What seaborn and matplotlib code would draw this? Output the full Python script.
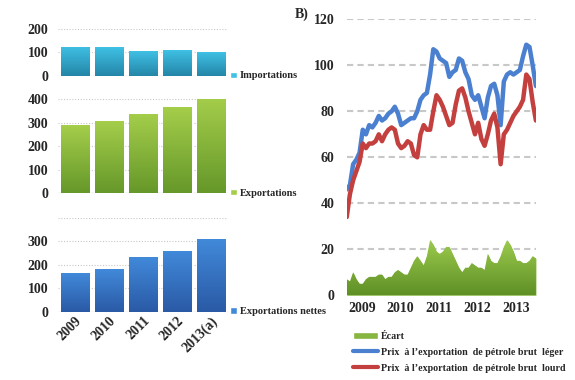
import numpy as np
import matplotlib.pyplot as plt
import seaborn as sns
from matplotlib.patches import Patch
from matplotlib.lines import Line2D
from matplotlib.colors import LinearSegmentedColormap

# --- data -----------------------------------------------------------------
years = ["2009", "2010", "2011", "2012", "2013(a)"]
importations = [125, 121, 106, 110, 100]
exportations = [288, 305, 338, 366, 407]
exportations_nettes = [164, 182, 231, 258, 308]

# monthly export prices, Jan 2009 - Dec 2013
prix_leger = [46, 48, 57, 59, 62, 72, 70, 74, 73, 75, 78, 76,
              77, 79, 80, 82, 79, 74, 75, 76, 77, 77, 80, 85,
              87, 88, 96, 107, 106, 103, 102, 101, 95, 97, 98, 103,
              102, 97, 94, 87, 85, 87, 82, 77, 86, 91, 92, 87,
              74, 93, 96, 97, 96, 97, 98, 104, 109, 108, 100, 91]
prix_lourd = [34, 44, 50, 54, 58, 66, 64, 66, 66, 67, 70, 67,
              70, 72, 73, 72, 66, 64, 65, 67, 66, 61, 60, 70,
              74, 72, 72, 80, 87, 85, 82, 78, 74, 75, 83, 89,
              90, 86, 80, 75, 70, 75, 68, 65, 70, 76, 79, 73,
              57, 70, 72, 75, 78, 80, 82, 85, 96, 94, 84, 76]
ecart = [7, 6, 10, 7, 5, 5, 7, 8, 8, 8, 9, 9,
         7, 8, 8, 10, 11, 10, 9, 9, 12, 15, 17, 15,
         13, 17, 24, 22, 19, 18, 19, 21, 21, 18, 15, 12,
         10, 12, 12, 14, 13, 12, 12, 11, 18, 15, 14, 14,
         17, 21, 24, 22, 19, 15, 15, 14, 14, 15, 17, 16]
year_labels = ["2009", "2010", "2011", "2012", "2013"]

sns.set_style("white")
plt.rcParams["font.family"] = ["Liberation Serif", "DejaVu Serif"]
plt.rcParams["font.weight"] = "bold"

fig = plt.figure(figsize=(5.75, 3.8), dpi=100)


def gradient_fill(ax, path, transform, extent, top, bottom, z):
    cmap = LinearSegmentedColormap.from_list("g", [bottom, top])
    grad = np.linspace(0, 1, 64).reshape(-1, 1)
    im = ax.imshow(grad, extent=extent, origin="lower", aspect="auto",
                   cmap=cmap, zorder=z)
    im.set_clip_path(path, transform)


def bar_panel(rect, values, top, bottom, label, ymax, yticks, show_x):
    ax = fig.add_axes(rect)
    sns.barplot(x=years, y=values, color=top, width=0.85, saturation=1, ax=ax)
    ax.set_ylim(0, ymax)
    ax.set_xlim(-0.5, 4.5)
    for p in ax.patches:
        x0, w, h = p.get_x(), p.get_width(), p.get_height()
        gradient_fill(ax, p.get_path(), p.get_transform(), [x0, x0 + w, 0, h],
                      top, bottom, p.get_zorder() + 0.1)
    ax.set_xlim(-0.5, 4.5)
    ax.set_ylim(0, ymax)
    ax.set_yticks(np.arange(0, ymax + 1, 100))
    ax.set_yticklabels([str(t) if t in yticks else "" for t in ax.get_yticks().astype(int)])
    ax.yaxis.grid(True, linestyle=(0, (1, 1.5)), color="#c8c8c8", lw=0.8)
    ax.set_axisbelow(True)
    sns.despine(ax=ax, left=True, bottom=True)
    ax.axhline(0, color="#d9d9d9", lw=1, zorder=0)
    ax.tick_params(axis="y", length=0, pad=7, labelsize=10)
    ax.set_xlabel("")
    ax.set_ylabel("")
    if show_x:
        ax.tick_params(axis="x", length=0, labelsize=10, pad=2)
        plt.setp(ax.get_xticklabels(), rotation=45, ha="right", rotation_mode="anchor")
    else:
        ax.set_xticklabels([])
        ax.tick_params(axis="x", length=0)
    ax.legend(handles=[Patch(facecolor=top)], labels=[label], loc="center left",
              bbox_to_anchor=(1.0, 0.0), frameon=False, fontsize=7.5,
              handlelength=0.6, handleheight=0.6, handletextpad=0.3,
              borderaxespad=0, borderpad=0.2)
    return ax


bar_panel([0.101, 0.80, 0.296, 0.124], importations, "#3fc0e4", "#2486a8",
          "Importations", 200, [0, 100, 200], False)
bar_panel([0.101, 0.492, 0.296, 0.247], exportations, "#a4cd4a", "#66982a",
          "Exportations", 400, [0, 100, 200, 300, 400], False)
bar_panel([0.101, 0.18, 0.296, 0.247], exportations_nettes, "#4189d9", "#2a5aa6",
          "Exportations nettes", 400, [0, 100, 200, 300], True)

# --- right chart -------------------------------------------------------------
months = np.arange(len(prix_leger))
ax = fig.add_axes([0.603, 0.223, 0.329, 0.726])
area = ax.fill_between(months, ecart, color="#86b540", lw=0, zorder=1)
gradient_fill(ax, area.get_paths()[0], ax.transData,
              [0, len(months) - 1, 0, max(ecart)], "#9dcb4e", "#5f9026", 1.1)
sns.lineplot(x=months, y=prix_leger, color="#4a80cf", lw=3.2, ax=ax, zorder=2)
sns.lineplot(x=months, y=prix_lourd, color="#c4403e", lw=3.2, ax=ax, zorder=3)
ax.set_xlim(0, len(months) - 1)
ax.set_ylim(0, 120)
ax.set_yticks(np.arange(0, 121, 20))
ax.yaxis.grid(True, linestyle=(0, (3, 2)), color="#c8c8c8", lw=1.5)
ax.set_axisbelow(True)
sns.despine(ax=ax, left=True, bottom=True)
ax.set_xticks(4.75 + 12 * np.arange(len(year_labels)))
ax.set_xticklabels(year_labels)
ax.tick_params(axis="both", length=0, labelsize=10)
ax.tick_params(axis="y", pad=9)
ax.tick_params(axis="x", pad=5)
ax.set_xlabel("")
ax.set_ylabel("")

fig.text(0.513, 0.962, "B)", fontsize=10, fontweight="bold", va="center")

handles = [Patch(facecolor="#86b540"),
           Line2D([], [], color="#4a80cf", lw=3),
           Line2D([], [], color="#c4403e", lw=3)]
labels = ["Écart",
          "Prix  à l\u2019exportation  de pétrole brut  léger",
          "Prix  à l\u2019exportation  de pétrole brut  lourd"]
fig.legend(handles=handles, labels=labels, loc="upper left",
           bbox_to_anchor=(0.614, 0.127), frameon=False, fontsize=7.2,
           handlelength=2.5, handleheight=0.8, handletextpad=0.25,
           labelspacing=0.65, borderpad=0, borderaxespad=0)

fig.savefig("out.png", dpi=100)
